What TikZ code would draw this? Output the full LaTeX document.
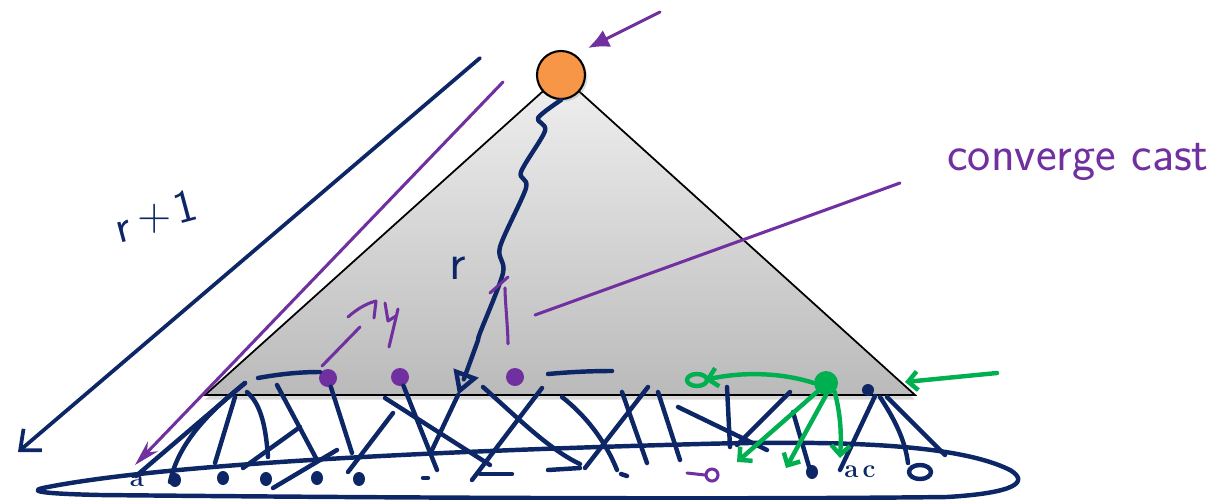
\documentclass[tikz,border=0pt]{standalone}
\usepackage{tikz}
\usetikzlibrary{arrows.meta, positioning, shadows}
\definecolor{inknavy}{RGB}{12,38,102}
\definecolor{inkpurple}{RGB}{112,48,160}
\definecolor{inkgreen}{RGB}{0,176,80}
\definecolor{rootorange}{RGB}{247,150,70}

\begin{document}
\begin{tikzpicture}[x=0.03cm, y=-0.03cm,
  ink/.style={draw=inknavy, line width=3.8pt, line cap=round, line join=round},
  pen/.style={draw=inkpurple, line width=2.6pt, line cap=round, line join=round},
  grn/.style={draw=inkgreen, line width=3.8pt, line cap=round, line join=round},
  pdot/.style={circle, fill=inkpurple, inner sep=0pt, minimum size=0.54cm},
  scrawl/.style={font=\sffamily\fontsize{40}{40}\selectfont}]
\useasboundingbox (0,0) rectangle (1224,499);

\coordinate (apex) at (561,75);
\coordinate (bl) at (205,395);
\coordinate (br) at (915,395);
\fill [top color=black!6, bottom color=black!27,
  drop shadow={shadow xshift=0pt, shadow yshift=-4pt, opacity=0.3}]
  (apex) -- (br) -- (bl) -- cycle;
\draw [line width=1.5pt, line join=miter] (apex) -- (br) -- (bl) -- cycle;
\node (root) at (561,75) [circle, draw=black, line width=1.8pt, fill=rootorange,
  minimum size=1.44cm, drop shadow={opacity=0.25}] {};

\draw [ink] (43,488) .. controls (150,466) and (400,452) .. (700,444)
  .. controls (850,440) and (960,445) .. (1010,470)
  .. controls (1030,482) and (1015,493) .. (947,497)
  .. controls (700,500) and (300,497) .. (100,495)
  .. controls (55,494) and (25,492) .. (43,488);

\coordinate (navytop) at (480,58);
\coordinate (navyend) at (18,452);
\draw [ink, line width=3.2pt, -{Straight Barb[length=14pt,width=24pt]}] (navytop) -- (navyend);
\node (rr) at (124,232) [scrawl, text=inknavy, inner sep=0pt, rotate=15] {r};
\node (rplus) at (155,219) [scrawl, text=inknavy, inner sep=0pt] {+};
\node (rone) at (185,206) [scrawl, text=inknavy, inner sep=0pt, rotate=15] {1};

\coordinate (purptop) at (503,82);
\coordinate (purpend) at (135,465);
\draw [pen, -{Stealth[open, length=22pt, width=12pt]}] (purptop) -- (purpend);
\coordinate (toptail) at (660,12);
\coordinate (tophead) at (588,48);
\draw [pen, -{Latex[length=18pt, width=16pt]}] (toptail) -- (tophead);

\coordinate (tip) at (458,395);
\draw [ink, -{Triangle[open, length=20pt, width=22pt]}]
  plot [smooth, tension=0.5] coordinates {(root.south) (538,118) (545,131) (521,172)
  (526,188) (500,247) (503,273) (480,333) (477,343) (tip)};
\node (rlabel) at (458,268) [scrawl, text=inknavy, font=\sffamily\fontsize{44}{44}\selectfont] {r};

\node (p1) at (328,378) [pdot] {};
\node (p2) at (400,377) [pdot] {};
\node (p3) at (515,377) [pdot] {};
\node (g) at (826,383) [circle, fill=inkgreen, inner sep=0pt, minimum size=0.72cm] {};

\draw [pen] (322,366) -- (360,327);
\draw [pen] (348,317) .. controls (358,308) and (368,303) .. (376,301) -- (374,318);
\draw [pen] (385,303) -- (388,321) -- (396,316);
\draw [pen] (398,309) -- (389,347);

\draw [pen] (p3.north) ++(-7,-24) coordinate (cfoot) .. controls (508,330) and (505,300) .. (505,288);
\draw [pen] (490,293) -- (508,277);
\coordinate (lfoot) at (535,315);
\coordinate (lend) at (900,183);
\draw [pen] (lfoot) -- (lend);
\node (cc) at (1078,162) [scrawl, text=inkpurple, font=\sffamily\fontsize{42}{42}\selectfont] {converge cast};

\draw [ink] (258,378) .. controls (280,374) and (300,372) .. (320,372);
\draw [ink] (548,374) .. controls (570,372) and (590,371) .. (612,371);
\draw [ink] (245,383) -- (136,476);
\draw [ink] (245,383) .. controls (205,415) and (178,445) .. (170,482);
\draw [ink] (235,397) -- (215,463);
\draw [ink] (247,392) .. controls (262,405) and (266,430) .. (268,457);
\draw [ink] (277,385) -- (317,460);
\draw [ink] (243,468) -- (300,427);
\draw [ink] (273,488) -- (337,450);
\draw [ink] (p1) -- (352,453);
\draw [ink] (348,472) -- (393,413);
\draw [ink] (385,398) -- (490,465);
\draw [ink] (p2) -- (437,470);
\draw [ink] (tip) -- (432,450);
\draw [ink] (483,387) .. controls (520,420) and (550,450) .. (580,464);
\draw [ink] (542,388) -- (472,480);
\draw [ink] (480,474) -- (512,474);
\draw [ink] (548,470) -- (580,468);
\draw [ink] (562,397) .. controls (585,415) and (605,440) .. (617,470);
\draw [ink] (648,387) -- (585,468);
\draw [ink] (622,392) -- (647,463);
\draw [ink] (658,392) -- (680,460);
\draw [ink] (678,407) -- (767,450);
\draw [ink] (727,387) -- (730,447);
\draw [ink] (790,392) -- (737,445);
\draw [ink] (793,412) -- (810,470);
\draw [ink] (875,396) -- (840,470);
\draw [ink] (880,397) .. controls (895,420) and (905,440) .. (908,463);
\draw [ink] (887,397) -- (945,455);
\fill [inknavy] (868,390) circle (6);

\foreach \x/\y in {175/480, 223/478, 266/479, 317/478, 359/479, 812/472}
  \fill [inknavy] (\x,\y) ellipse [x radius=6, y radius=7];
\draw [ink] (423,478) -- (428,478);
\draw [ink] (621,474) -- (627,476);
\node (la) at (137,481) [text=inknavy, font=\bfseries\fontsize{22}{22}\selectfont] {a};
\node (lac) at (860,472) [text=inknavy, font=\bfseries\fontsize{22}{22}\selectfont] {a\,c};
\draw [ink] (920,472) ellipse [x radius=11, y radius=7];
\draw [pen] (687,473) -- (705,475);
\draw [pen] (712,475) circle (6);

\draw [grn, -{Straight Barb[length=8pt,width=16pt]}] (g.west) .. controls (780,372) and (740,372) .. (705,380);
\draw [grn] (697,380) ellipse [x radius=10, y radius=6];
\draw [grn, -{Straight Barb[length=8pt,width=16pt]}] (g.south west) -- (737,462);
\draw [grn, -{Straight Barb[length=8pt,width=16pt]}] (g.south) -- (786,468);
\draw [grn, -{Straight Barb[length=8pt,width=16pt]}] (g.south east) .. controls (842,420) and (841,440) .. (840,458);
\coordinate (gtail) at (997,373);
\coordinate (ghead) at (905,382);
\draw [grn, -{Straight Barb[length=8pt,width=16pt]}] (gtail) -- (ghead);
\end{tikzpicture}
\end{document}
